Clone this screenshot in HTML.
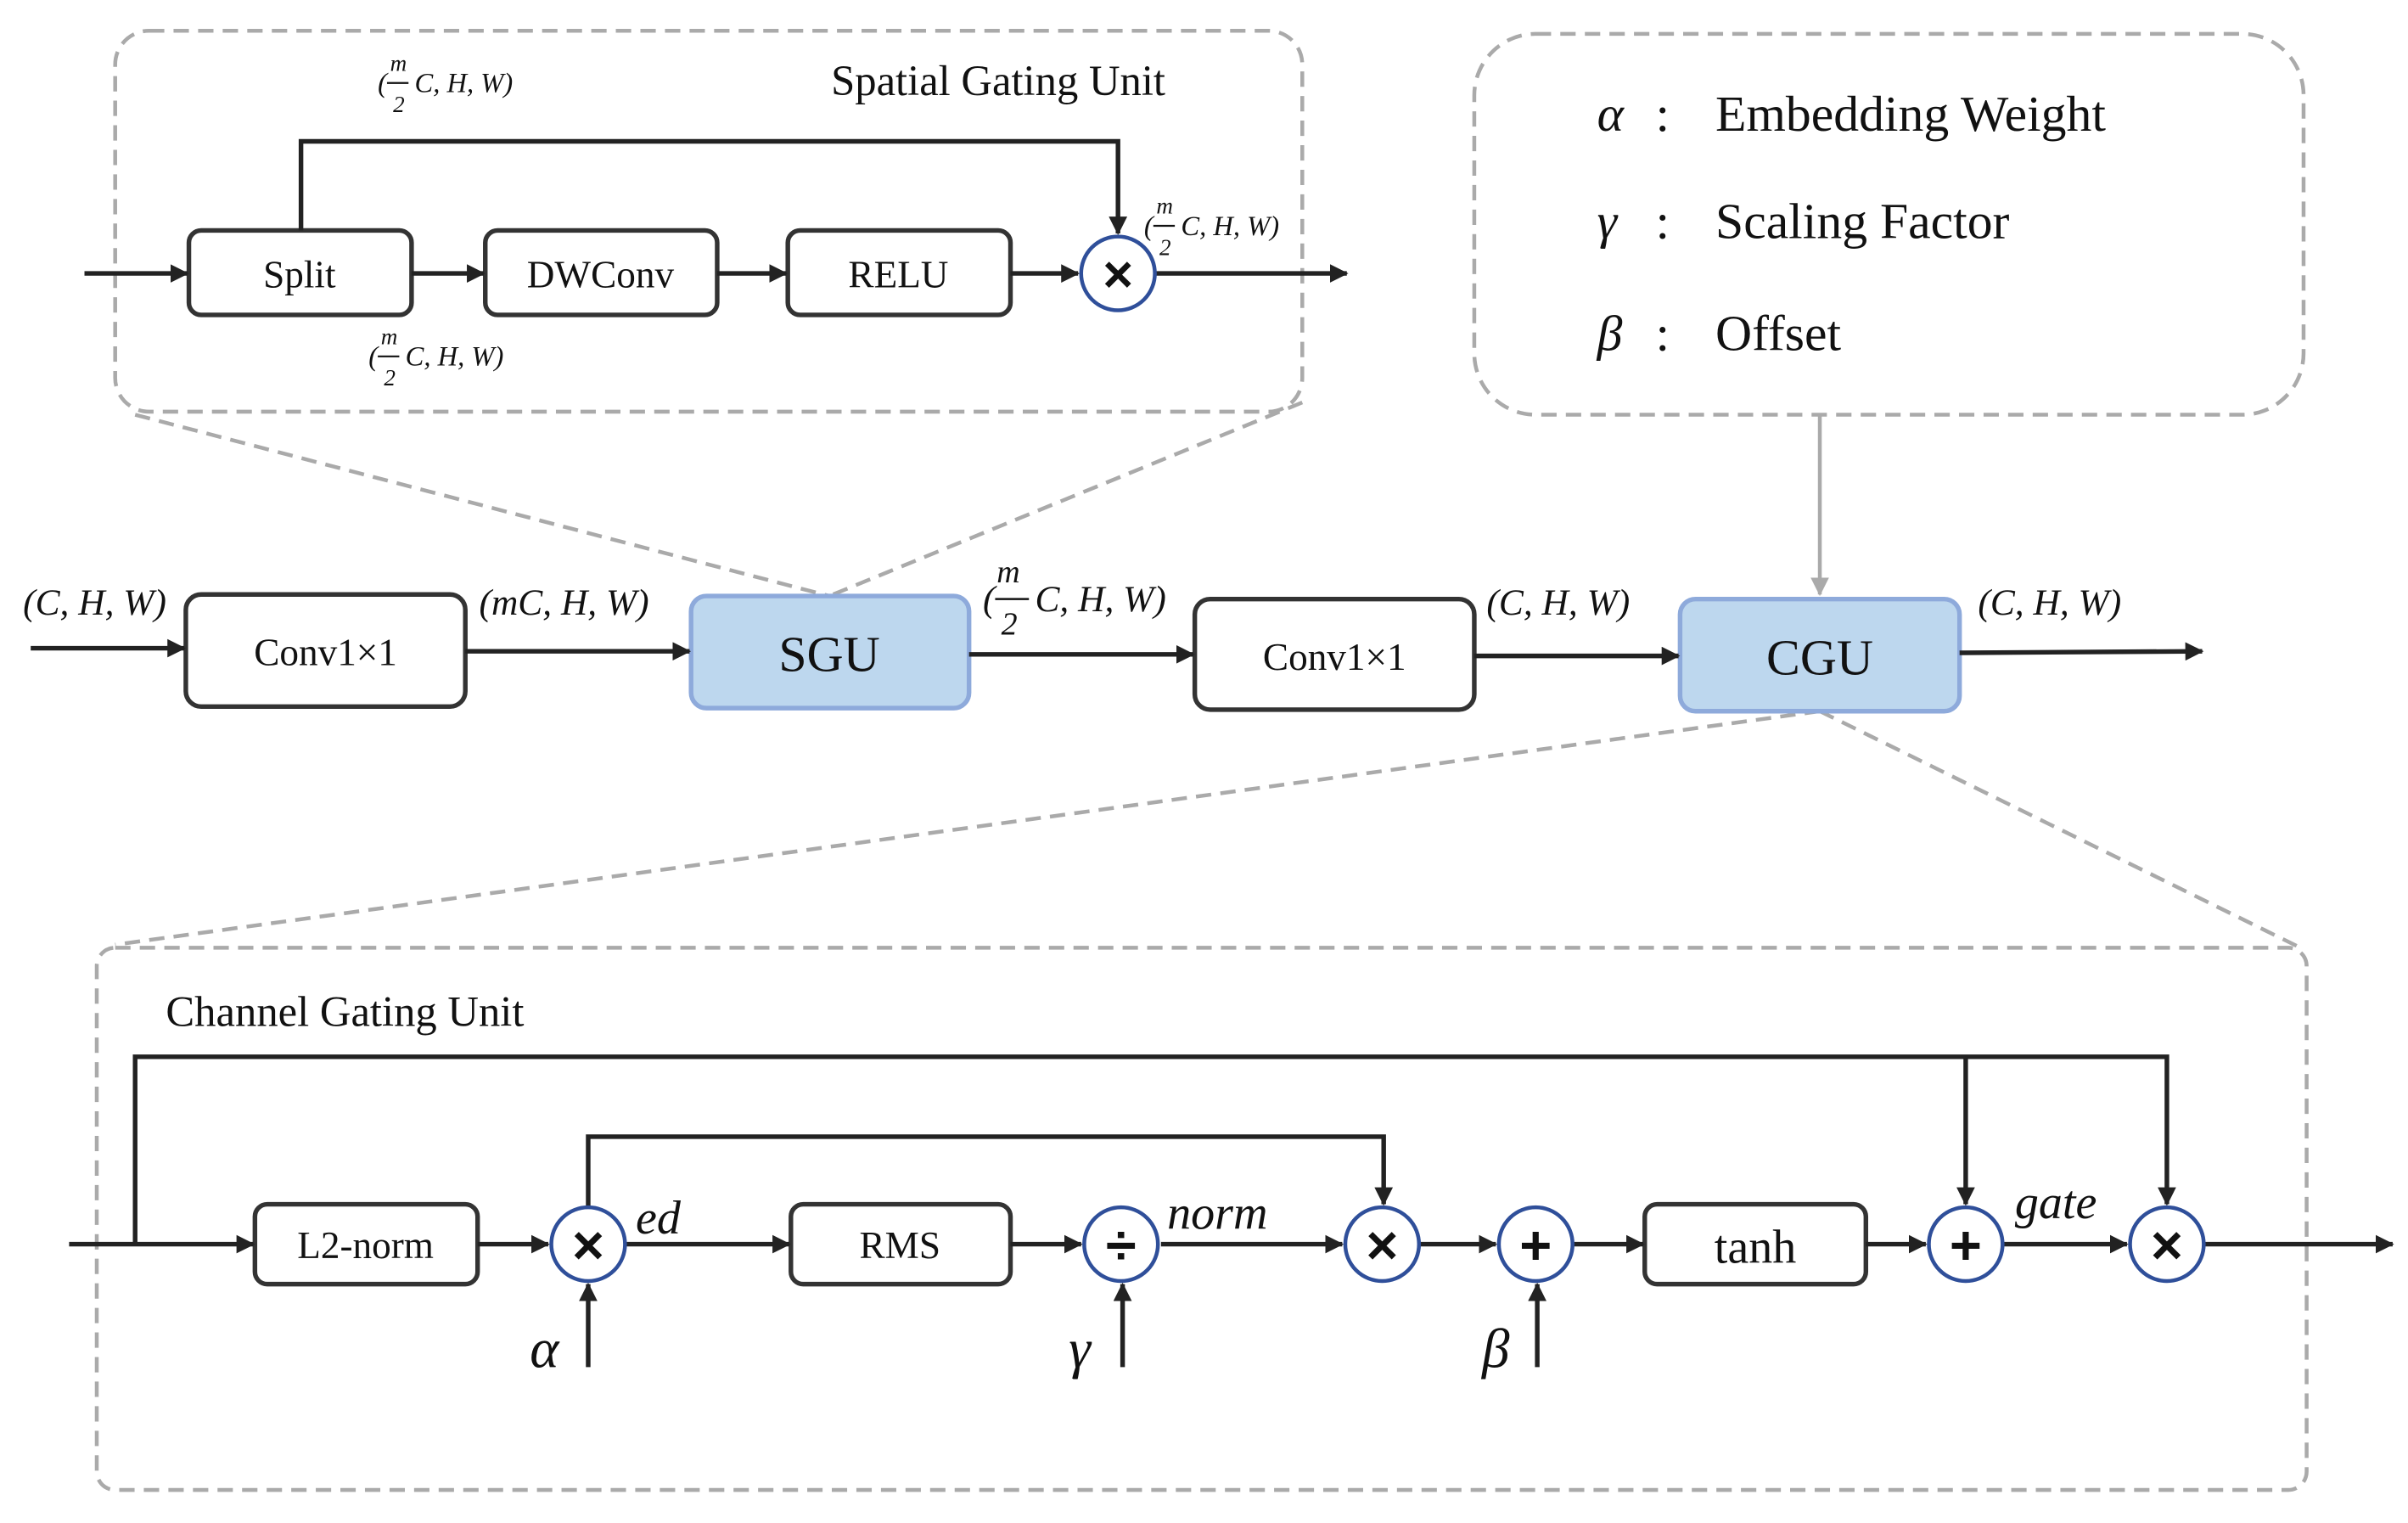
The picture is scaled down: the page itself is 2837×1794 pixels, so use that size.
<!DOCTYPE html>
<html><head><meta charset="utf-8"><style>
html,body{margin:0;padding:0;background:#fff;}
svg{display:block;}
svg text{font-family:"Liberation Serif","Times New Roman",serif !important;fill:#111;}
.i{font-style:italic;}
svg text.op{font-family:"Liberation Sans","DejaVu Sans",sans-serif !important;font-weight:bold;}
</style></head><body>
<svg width="2837" height="1794" viewBox="0 0 1568 991.5" xmlns="http://www.w3.org/2000/svg" font-family="Liberation Serif, serif">
<defs>
<marker id="a" markerWidth="12" markerHeight="12" refX="11" refY="6" orient="auto" markerUnits="userSpaceOnUse"><path d="M0,0 L12,6 L0,12 z" fill="#222"/></marker>
<marker id="g" markerWidth="12" markerHeight="12" refX="11" refY="6" orient="auto" markerUnits="userSpaceOnUse"><path d="M0,0 L12,6 L0,12 z" fill="#aaa"/></marker>
</defs>
<g fill="none" stroke="#aaa" stroke-width="2.5" stroke-dasharray="10,6">
<rect x="75" y="20" width="773" height="248" rx="22"/>
<rect x="960" y="22" width="540" height="248" rx="40"/>
<rect x="63" y="617" width="1439" height="353" rx="12"/>
<line x1="88" y1="270" x2="540" y2="388"/>
<line x1="848" y1="262" x2="540" y2="388"/>
<line x1="1185" y1="463" x2="75" y2="615"/>
<line x1="1185" y1="463" x2="1500" y2="618"/>
</g>
<line x1="1185" y1="270" x2="1185" y2="387" stroke="#aaa" stroke-width="2.5" marker-end="url(#g)"/>

<!-- SGU detail -->
<g fill="none" stroke="#333" stroke-width="3">
<rect x="123" y="150" width="145" height="55" rx="8"/>
<rect x="316" y="150" width="151" height="55" rx="8"/>
<rect x="513" y="150" width="145" height="55" rx="8"/>
</g>
<g stroke="#222" stroke-width="3" fill="none" marker-end="url(#a)">
<line x1="55" y1="178" x2="122" y2="178"/>
<line x1="268" y1="178" x2="315" y2="178"/>
<line x1="467" y1="178" x2="512" y2="178"/>
<line x1="658" y1="178" x2="702" y2="178"/>
<line x1="753" y1="178" x2="877" y2="178"/>
<polyline points="196,150 196,92 728,92 728,152"/>
</g>
<circle cx="728" cy="178" r="24" fill="#fff" stroke="#2f4f9a" stroke-width="2.5"/>
<text class="op" x="728" y="190" font-size="34" text-anchor="middle">×</text>
<text x="650" y="62" font-size="28" text-anchor="middle">Spatial Gating Unit</text>
<text x="195" y="187" font-size="25" text-anchor="middle">Split</text>
<text x="391" y="187" font-size="25" text-anchor="middle">DWConv</text>
<text x="585" y="187" font-size="25" text-anchor="middle">RELU</text>

<!-- small fractions -->
<g font-size="18" class="i">
<text x="246" y="60">(</text><text x="254" y="46" font-size="15">m</text><text x="256" y="73" font-size="15">2</text><text x="270" y="60">C, H, W)</text>
<text x="240" y="238">(</text><text x="248" y="224" font-size="15">m</text><text x="250" y="251" font-size="15">2</text><text x="264" y="238">C, H, W)</text>
<text x="745" y="153">(</text><text x="753" y="139" font-size="15">m</text><text x="755" y="166" font-size="15">2</text><text x="769" y="153">C, H, W)</text>
</g>
<g stroke="#111" stroke-width="1.2">
<line x1="252" y1="54" x2="266" y2="54"/>
<line x1="246" y1="232" x2="260" y2="232"/>
<line x1="751" y1="147" x2="765" y2="147"/>
</g>

<!-- legend -->
<g font-size="33">
<text x="1040" y="85" class="i">α</text><text x="1078" y="85">:</text><text x="1117" y="85">Embedding Weight</text>
<text x="1040" y="155" class="i">γ</text><text x="1078" y="155">:</text><text x="1117" y="155">Scaling Factor</text>
<text x="1040" y="228" class="i">β</text><text x="1078" y="228">:</text><text x="1117" y="228">Offset</text>
</g>

<!-- main row -->
<g fill="none" stroke="#333" stroke-width="3">
<rect x="121" y="387" width="182" height="73" rx="10"/>
<rect x="778" y="390" width="182" height="72" rx="10"/>
</g>
<rect x="450" y="388" width="181" height="73" rx="10" fill="#bdd7ee" stroke="#8eaadb" stroke-width="3"/>
<rect x="1094" y="390" width="182" height="73" rx="10" fill="#bdd7ee" stroke="#8eaadb" stroke-width="3"/>
<g stroke="#222" stroke-width="3" marker-end="url(#a)">
<line x1="20" y1="422" x2="120" y2="422"/>
<line x1="303" y1="424" x2="449" y2="424"/>
<line x1="631" y1="426" x2="777" y2="426"/>
<line x1="960" y1="427" x2="1093" y2="427"/>
<line x1="1276" y1="425" x2="1434" y2="424"/>
</g>
<text x="212" y="433" font-size="25" text-anchor="middle">Conv1×1</text>
<text x="540" y="437" font-size="33" text-anchor="middle">SGU</text>
<text x="869" y="436" font-size="25" text-anchor="middle">Conv1×1</text>
<text x="1185" y="439" font-size="33" text-anchor="middle">CGU</text>
<g font-size="24" class="i">
<text x="15" y="400">(C, H, W)</text>
<text x="312" y="400">(mC, H, W)</text>
<text x="640" y="398">(</text><text x="649" y="379" font-size="21">m</text><text x="652" y="413" font-size="21">2</text><text x="674" y="398">C, H, W)</text>
<text x="968" y="400">(C, H, W)</text>
<text x="1288" y="400">(C, H, W)</text>
</g>
<line x1="648" y1="390" x2="670" y2="390" stroke="#111" stroke-width="1.4"/>

<!-- CGU detail -->
<text x="108" y="668" font-size="28">Channel Gating Unit</text>
<g fill="none" stroke="#333" stroke-width="3">
<rect x="166" y="784" width="145" height="52" rx="8"/>
<rect x="515" y="784" width="143" height="52" rx="8"/>
<rect x="1071" y="784" width="144" height="52" rx="8"/>
</g>
<g stroke="#222" stroke-width="3" fill="none" marker-end="url(#a)">
<line x1="45" y1="810" x2="165" y2="810"/>
<line x1="311" y1="810" x2="357" y2="810"/>
<line x1="408" y1="810" x2="514" y2="810"/>
<line x1="658" y1="810" x2="704" y2="810"/>
<line x1="756" y1="810" x2="874" y2="810"/>
<line x1="925" y1="810" x2="974" y2="810"/>
<line x1="1025" y1="810" x2="1070" y2="810"/>
<line x1="1215" y1="810" x2="1254" y2="810"/>
<line x1="1305" y1="810" x2="1385" y2="810"/>
<line x1="1436" y1="810" x2="1558" y2="810"/>
<polyline points="88,810 88,688 1411,688 1411,784"/>
<line x1="1280" y1="688" x2="1280" y2="784"/>
<polyline points="383,785 383,740 901,740 901,784"/>
<line x1="383" y1="890" x2="383" y2="836"/>
<line x1="731" y1="890" x2="731" y2="836"/>
<line x1="1001" y1="890" x2="1001" y2="836"/>
</g>
<g fill="#fff" stroke="#2f4f9a" stroke-width="2.5">
<circle cx="383" cy="810" r="24"/><circle cx="730" cy="810" r="24"/><circle cx="900" cy="810" r="24"/>
<circle cx="1000" cy="810" r="24"/><circle cx="1280" cy="810" r="24"/><circle cx="1411" cy="810" r="24"/>
</g>
<g font-size="36" text-anchor="middle">
<text class="op" x="383" y="823">×</text><text class="op" x="730" y="823">÷</text><text class="op" x="900" y="823">×</text>
<text class="op" x="1000" y="823">+</text><text class="op" x="1280" y="823">+</text><text class="op" x="1411" y="823">×</text>
</g>
<text x="238" y="819" font-size="25" text-anchor="middle">L2-norm</text>
<text x="586" y="819" font-size="25" text-anchor="middle">RMS</text>
<text x="1143" y="822" font-size="31" text-anchor="middle">tanh</text>
<g class="i" font-size="31">
<text x="414" y="803">ed</text>
<text x="760" y="800">norm</text>
<text x="1312" y="793">gate</text>
<text x="345" y="890" font-size="36">α</text>
<text x="696" y="890" font-size="36">γ</text>
<text x="965" y="890" font-size="36">β</text>
</g>
</svg>
</body></html>
